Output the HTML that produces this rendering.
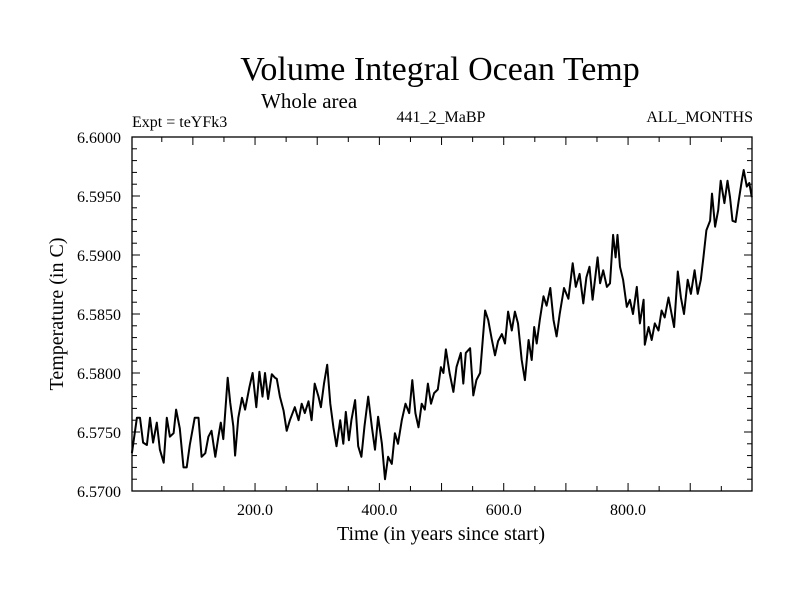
<!DOCTYPE html>
<html><head><meta charset="utf-8"><style>
body{margin:0;background:#fff}
svg{display:block;font-family:"Liberation Serif",serif}
</style></head><body>
<svg id="chart" width="800" height="600">
<text x="440" y="80" font-size="34" text-anchor="middle">Volume Integral Ocean Temp</text>
<text x="261" y="108" font-size="21">Whole area</text>
<text x="132" y="127" font-size="16">Expt = teYFk3</text>
<text x="441" y="122" font-size="16" text-anchor="middle">441_2_MaBP</text>
<text x="753" y="122" font-size="16" text-anchor="end">ALL_MONTHS</text>
<text x="441" y="540" font-size="20" text-anchor="middle">Time (in years since start)</text>
<text x="0" y="0" font-size="20" text-anchor="middle" transform="translate(63,314) rotate(-90)">Temperature (in C)</text>
<g id="axes"></g>
<path id="series" fill="none" stroke="#000" stroke-width="2" stroke-linejoin="round"/>
</svg>
<script>
const years=[2,10,15,20,26,31,36,42,47,53,58,63,69,73,79,85,90,95,103,109,114,120,125,130,136,141,145,149,156,160,165,168,173,179,184,191,196,202,207,212,216,221,227,232,235,240,246,251,256,
264,270,275,280,286,291,296,302,306,311,316,321,326,331,337,342,346,351,355,361,366,371,376,382,388,393,398,404,409,414,420,425,430,436,442,448,453,458,463,468,473,478,483,488,494,499,503,
507,513,519,524,531,535,539,546,551,556,562,570,575,581,586,591,597,602,607,613,618,623,629,634,640,645,649,653,658,664,669,675,680,685,690,697,704,711,716,722,728,733,738,743,747,
751,755,760,766,771,776,780,783,787,792,798,803,808,814,819,825,827,833,838,843,849,854,859,865,870,874,880,885,890,896,901,907,912,917,921,926,932,935,940,945,949,955,960,964,968,973,978,983,986,991,995,999];
const temps=[6.5732,6.5762,6.5762,6.5741,6.5739,6.5762,6.5741,6.5758,6.5735,6.5724,6.5762,6.5746,6.5749,6.5769,6.5753,6.5720,6.5720,6.5739,6.5762,6.5762,6.5729,6.5732,6.5746,6.5751,6.5729,6.5746,6.5758,6.5744,6.5796,6.5775,6.5755,6.5730,6.5762,6.5779,6.5769,6.5788,6.5800,6.5771,6.5801,6.5780,6.5800,6.5778,6.5799,6.5796,6.5795,6.5780,6.5768,6.5751,6.5760,
6.5771,6.5760,6.5774,6.5766,6.5776,6.5760,6.5791,6.5780,6.5771,6.5791,6.5807,6.5774,6.5754,6.5738,6.5760,6.5740,6.5767,6.5743,6.5760,6.5777,6.5738,6.5729,6.5755,6.5780,6.5754,6.5735,6.5763,6.5740,6.5710,6.5729,6.5723,6.5749,6.5740,6.5760,6.5774,6.5766,6.5794,6.5766,6.5754,6.5774,6.5769,6.5791,6.5774,6.5783,6.5786,6.5805,6.5800,
6.5820,6.5800,6.5784,6.5805,6.5817,6.5791,6.5817,6.5821,6.5781,6.5794,6.5800,6.5853,6.5845,6.5828,6.5815,6.5827,6.5833,6.5825,6.5852,6.5836,6.5852,6.5842,6.5811,6.5794,6.5828,6.5811,6.5839,6.5825,6.5845,6.5865,6.5857,6.5872,6.5845,6.5831,6.5850,6.5872,6.5863,6.5893,6.5873,6.5884,6.5859,6.5881,6.5890,6.5862,6.5880,
6.5898,6.5876,6.5887,6.5873,6.5876,6.5917,6.5898,6.5917,6.5890,6.5879,6.5856,6.5862,6.5850,6.5873,6.5842,6.5862,6.5824,6.5839,6.5828,6.5842,6.5836,6.5853,6.5847,6.5864,6.5850,6.5839,6.5886,6.5864,6.5850,6.5879,6.5867,6.5887,6.5867,6.5879,6.5897,6.5921,6.5929,6.5952,6.5924,6.5938,6.5963,6.5944,6.5963,6.5949,6.5929,6.5928,6.5946,6.5963,6.5972,6.5958,6.5961,6.5949];
const xTicks=[200,400,600,800];
const xTickLabels=["200.0","400.0","600.0","800.0"];
const yTicks=[6.57,6.575,6.58,6.585,6.59,6.595,6.6];
const yTickLabels=["6.5700","6.5750","6.5800","6.5850","6.5900","6.5950","6.6000"];
const L=132,R=752,T=137,B=491;
const xs=v=>130.7+(v)*0.6217;
const ys=v=>B-(v-6.57)/0.03*(B-T);
const NS="http://www.w3.org/2000/svg";
const g=document.getElementById('axes');
function mk(tag,attrs){const e=document.createElementNS(NS,tag);for(const k in attrs)e.setAttribute(k,attrs[k]);g.appendChild(e);return e;}
const frame=mk('rect',{x:L,y:T,width:R-L,height:B-T,fill:'none',stroke:'#000','stroke-width':1.3});


for(let v=50;v<1000;v+=50){
  const len=(v%100===0)?8:5;const x=xs(v);
  const t1=mk('line',{x1:x,y1:B,x2:x,y2:B-len,stroke:'#000','stroke-width':1});
  
  
  const t2=mk('line',{x1:x,y1:T,x2:x,y2:T+len,stroke:'#000','stroke-width':1});
  
  
}
for(let i=0;i<=30;i++){
  const v=6.57+i*0.001;const y=ys(v);const len=(i%5===0)?8:5;
  const t1=mk('line',{x1:L,y1:y,x2:L+len,y2:y,stroke:'#000','stroke-width':1});
  
  
  const t2=mk('line',{x1:R,y1:y,x2:R-len,y2:y,stroke:'#000','stroke-width':1});
  
  
}
xTicks.forEach((v,i)=>{
  const t=mk('text',{x:xs(v),y:B+24,'font-size':16,'text-anchor':'middle'});
  t.textContent=xTickLabels[i];
  
  
});
yTicks.forEach((v,i)=>{
  const t=mk('text',{x:L-11,y:ys(v)+6,'font-size':16,'text-anchor':'end'});
  t.textContent=yTickLabels[i];
  
  
});
let d='';
years.forEach((yr,i)=>{d+=(i?'L':'M')+xs(yr).toFixed(1)+','+ys(temps[i]).toFixed(1);});
document.getElementById('series').setAttribute('d',d);
</script>
</body></html>
